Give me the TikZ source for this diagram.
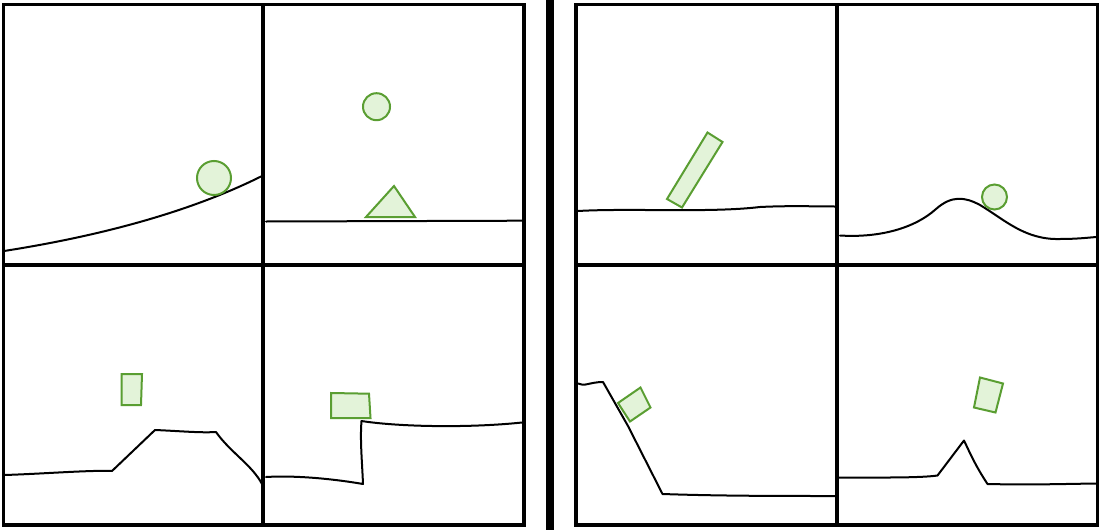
\documentclass[tikz,border=0pt]{standalone}
\usepackage{tikz}
\definecolor{gstroke}{HTML}{5A9E32}
\definecolor{gfill}{HTML}{E3F3D9}
\begin{document}
\begin{tikzpicture}[x=1pt,y=-1pt,
  frame/.style={line width=3.5pt,line join=miter},
  ground/.style={line width=2pt,line join=round,line cap=round},
  body/.style={line width=2pt,draw=gstroke,fill=gfill,line join=miter}]
\useasboundingbox (0,0) rectangle (1100,530);
\fill[white] (0,0) rectangle (1100,530);
% frames
\draw[frame] (3.5,4.5) rectangle (524,525);
\draw[frame] (263,4.5) -- (263,525);
\draw[frame] (3.5,265) -- (524,265);
\draw[frame] (576,4.5) rectangle (1097.5,525);
\draw[frame] (837,4.5) -- (837,525);
\draw[frame] (576,265) -- (1097.5,265);
\fill (546,0) rectangle (554,530);
% panel 1
\draw[ground] (4,251) .. controls (100,236) and (190,212) .. (262,176);
\draw[body] (214,178) circle (17);
% panel 2
\draw[ground] (266,221.5) -- (522,220.7);
\draw[body] (376.5,106.7) circle (13.5);
\draw[body] (366,217) -- (394,186) -- (415,217) -- cycle;
% panel 3
\draw[ground] (4,475) .. controls (40,474) and (90,470) .. (112,471)
  -- (155,430) .. controls (180,431) and (200,433) .. (216,432)
  .. controls (230,452) and (252,465) .. (262,484);
\draw[body] (121.5,374) -- (142,374) -- (141,405) -- (121.5,405) -- cycle;
% panel 4
\draw[ground] (266,477) .. controls (300,475) and (340,480) .. (363,484)
  .. controls (362,460) and (360,440) .. (361.5,421)
  .. controls (400,427) and (470,428) .. (522,422.5);
\draw[body] (331,393) -- (369,393.7) -- (370.5,418) -- (331,418) -- cycle;
% panel 5
\draw[ground] (578,211) .. controls (630,208) and (710,213) .. (760,207)
  .. controls (790,205.5) and (815,206.5) .. (835,206.5);
\draw[body] (667,199) -- (682,207.5) -- (722.5,142) -- (707.5,132.5) -- cycle;
% panel 6
\draw[ground] (840,235.5) .. controls (880,238) and (915,228) .. (936,209)
  .. controls (952,195) and (965,197) .. (980,205)
  .. controls (1005,220) and (1025,240) .. (1060,239)
  .. controls (1075,239) and (1085,238) .. (1096,237);
\draw[body] (994.5,197) circle (12.5);
% panel 7
\draw[ground] (578,383.5) .. controls (584,387) and (590,382) .. (603,382)
  -- (628,426) -- (662.5,494) .. controls (720,496) and (780,496) .. (835,496);
\draw[body] (618,403) -- (640.5,387.5) -- (650.5,407.5) -- (630,421.5) -- cycle;
% panel 8
\draw[ground] (839,477.5) .. controls (880,477.5) and (920,478) .. (937.5,475.5)
  -- (964,440.5) .. controls (970,453) and (975,465) .. (987.5,484)
  .. controls (1030,485) and (1060,484) .. (1096,483.5);
\draw[body] (980,377.5) -- (1003,383.5) -- (995.5,412.5) -- (974,407.5) -- cycle;
\end{tikzpicture}
\end{document}
